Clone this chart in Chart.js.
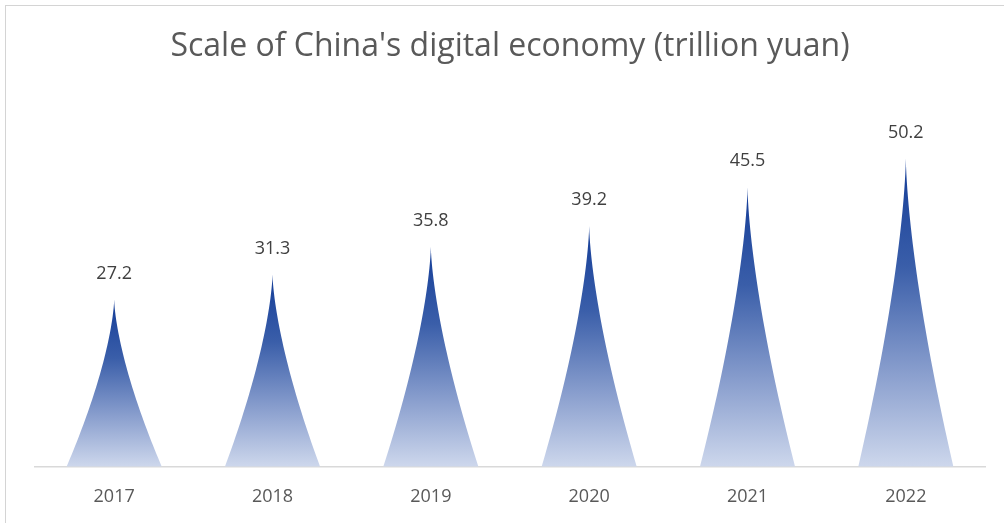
<!DOCTYPE html>
<html>
<head>
<meta charset="utf-8">
<script src="https://cdn.jsdelivr.net/npm/chart.js@4"></script>
<style>
  html, body { margin: 0; padding: 0; background: #fff; }
  #wrap { position: relative; width: 1004px; height: 523px; }
  #frame { position: absolute; left: 5px; top: 5px; width: 1010px; height: 530px; border: 1px solid #d4d4d4; box-sizing: border-box; }
</style>
</head>
<body>
<div id="wrap">
  <div id="frame"></div>
  <canvas id="myChart"></canvas>
</div>
<script>
const years = ['2017', '2018', '2019', '2020', '2021', '2022'];
const scale = [27.2, 31.3, 35.8, 39.2, 45.5, 50.2];
const titleText = "Scale of China's digital economy (trillion yuan)";

// draws the pointed "spike" marks on top of the (invisible) bars
const spikes = {
  id: 'spikes',
  afterDatasetsDraw(chart) {
    const ctx = chart.ctx;
    const meta = chart.getDatasetMeta(0);
    meta.data.forEach((bar, i) => {
      const x = bar.x, top = bar.y, base = bar.base, w = bar.width;
      const h = base - top;
      const g = ctx.createLinearGradient(0, top, 0, base);
      g.addColorStop(0, '#143d98');
      g.addColorStop(0.35, '#3a5ea9');
      g.addColorStop(0.7, '#8a9fce');
      g.addColorStop(1, '#cdd7ec');
      ctx.save();
      ctx.beginPath();
      const n = 40;
      for (let k = 0; k <= n; k++) {
        const t = k / n;
        const hw = w / 2 * Math.pow(1 - t, 1.5);
        const yy = base - t * h;
        if (k === 0) ctx.moveTo(x - hw, yy); else ctx.lineTo(x - hw, yy);
      }
      for (let k = n; k >= 0; k--) {
        const t = k / n;
        const hw = w / 2 * Math.pow(1 - t, 1.5);
        ctx.lineTo(x + hw, base - t * h);
      }
      ctx.closePath();
      ctx.fillStyle = g;
      ctx.fill();

      ctx.fillStyle = '#404040';
      ctx.font = '18px "Open Sans", sans-serif';
      ctx.textAlign = 'center';
      ctx.textBaseline = 'middle';
      ctx.fillText(scale[i].toFixed(1), x, top - 26);
      ctx.restore();
    });
  }
};

const ctx = document.getElementById('myChart').getContext('2d');
const chart = new Chart(ctx, {
  type: 'bar',
  data: {
    labels: years,
    datasets: [{
      label: 'Scale',
      data: scale,
      backgroundColor: 'rgba(0,0,0,0)',
      borderWidth: 0,
      categoryPercentage: 1,
      barPercentage: 0.6
    }]
  },
  options: {
    responsive: true,
    maintainAspectRatio: false,
    animation: false,
    layout: { padding: { left: 35, right: 19, top: 14, bottom: 3 } },
    plugins: {
      legend: { display: false },
      tooltip: { enabled: false },
      title: {
        display: true,
        text: titleText,
        color: '#595959',
        font: { family: '"Open Sans", sans-serif', size: 32, weight: 'normal' },
        padding: { top: 14, bottom: 32 }
      }
    },
    scales: {
      x: {
        grid: { display: false },
        border: { display: true, color: '#d9d9d9', width: 1.5 },
        ticks: {
          color: '#595959',
          font: { family: '"Open Sans", sans-serif', size: 18 },
          padding: 12
        }
      },
      y: {
        display: false,
        min: 0,
        max: 60
      }
    }
  },
  plugins: [spikes]
});
</script>
</body>
</html>
